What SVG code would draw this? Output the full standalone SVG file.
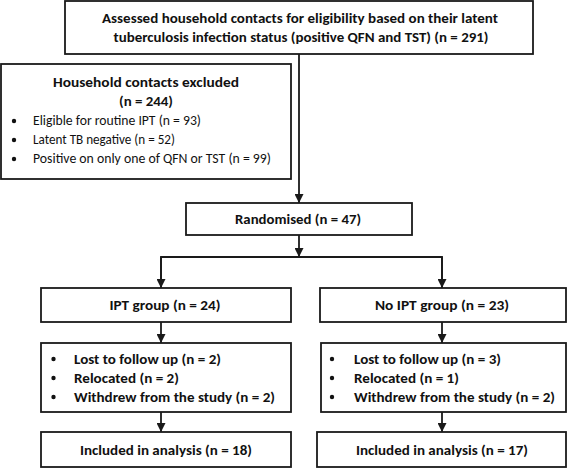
<svg xmlns="http://www.w3.org/2000/svg" width="567" height="469" viewBox="0 0 567 469">
<defs>
<style>
.box{fill:#fff;stroke:#1a1a1a;stroke-width:1.8}
.t{font-family:Carlito,Lato,"Liberation Sans",sans-serif;font-size:13.5px;font-weight:bold;fill:#111}
.r{font-family:Carlito,Lato,"Liberation Sans",sans-serif;font-size:13.5px;font-weight:normal;fill:#111}
.h{font-size:14.5px}
.c{text-anchor:middle}
.ln{stroke:#1a1a1a;stroke-width:1.8;fill:none}
.dot{fill:#111}
</style>
<marker id="ah" markerUnits="userSpaceOnUse" markerWidth="9" markerHeight="9" refX="9" refY="4.5" orient="auto">
<path d="M0,0 L9,4.5 L0,9 z" fill="#1a1a1a"/>
</marker>
</defs>
<rect width="567" height="469" fill="#fff"/>
<g id="connectors">
<line class="ln" x1="299" y1="54" x2="299" y2="203" marker-end="url(#ah)"/>
<line class="ln" x1="299" y1="235" x2="299" y2="257" marker-end="url(#ah)"/>
<polyline class="ln" points="161,288 161,257 442,257 442,288"/>
<line class="ln" x1="161" y1="257" x2="161" y2="288" marker-end="url(#ah)"/>
<line class="ln" x1="442" y1="257" x2="442" y2="288" marker-end="url(#ah)"/>
<line class="ln" x1="161" y1="322" x2="161" y2="343" marker-end="url(#ah)"/>
<line class="ln" x1="442" y1="322" x2="442" y2="343" marker-end="url(#ah)"/>
<line class="ln" x1="161" y1="412" x2="161" y2="432" marker-end="url(#ah)"/>
<line class="ln" x1="442" y1="412" x2="442" y2="432" marker-end="url(#ah)"/>
</g>
<g id="assessed">
<rect class="box" x="65" y="1" width="468" height="53"/>
<text class="t c" x="300" y="23" textLength="396" lengthAdjust="spacingAndGlyphs">Assessed household contacts for eligibility based on their latent</text>
<text class="t c" x="301" y="42" textLength="375" lengthAdjust="spacingAndGlyphs">tuberculosis infection status (positive QFN and TST) (n = 291)</text>
</g>
<g id="excluded">
<rect class="box" x="1" y="64" width="290" height="115"/>
<text class="t h c" x="146" y="87" textLength="186" lengthAdjust="spacingAndGlyphs">Household contacts excluded</text>
<text class="t h c" x="146" y="106" textLength="54" lengthAdjust="spacingAndGlyphs">(n = 244)</text>
<circle class="dot" cx="14" cy="121" r="2.2"/>
<circle class="dot" cx="14" cy="140" r="2.2"/>
<circle class="dot" cx="14" cy="159" r="2.2"/>
<text class="r" x="33" y="125" textLength="168" lengthAdjust="spacingAndGlyphs">Eligible for routine IPT (n = 93)</text>
<text class="r" x="33" y="144" textLength="142" lengthAdjust="spacingAndGlyphs">Latent TB negative (n = 52)</text>
<text class="r" x="33" y="163" textLength="238" lengthAdjust="spacingAndGlyphs">Positive on only one of QFN or TST (n = 99)</text>
</g>
<g id="randomised">
<rect class="box" x="186" y="203" width="226" height="32"/>
<text class="t c" x="298" y="224" textLength="126" lengthAdjust="spacingAndGlyphs">Randomised (n = 47)</text>
</g>
<g id="ipt">
<rect class="box" x="41" y="288" width="250" height="34"/>
<text class="t c" x="165" y="310" textLength="111" lengthAdjust="spacingAndGlyphs">IPT group (n = 24)</text>
</g>
<g id="noipt">
<rect class="box" x="320" y="288" width="246" height="34"/>
<text class="t c" x="442" y="310" textLength="134" lengthAdjust="spacingAndGlyphs">No IPT group (n = 23)</text>
</g>
<g id="ipt-lost">
<rect class="box" x="41" y="343" width="250" height="69"/>
<circle class="dot" cx="53.5" cy="359" r="2.2"/>
<circle class="dot" cx="53.5" cy="378" r="2.2"/>
<circle class="dot" cx="53.5" cy="397" r="2.2"/>
<text class="t" x="74" y="364" textLength="147" lengthAdjust="spacingAndGlyphs">Lost to follow up (n = 2)</text>
<text class="t" x="74" y="383" textLength="105" lengthAdjust="spacingAndGlyphs">Relocated (n = 2)</text>
<text class="t" x="74" y="402" textLength="201" lengthAdjust="spacingAndGlyphs">Withdrew from the study (n = 2)</text>
</g>
<g id="noipt-lost">
<rect class="box" x="321" y="343" width="245" height="69"/>
<circle class="dot" cx="332" cy="359" r="2.2"/>
<circle class="dot" cx="332" cy="378" r="2.2"/>
<circle class="dot" cx="332" cy="397" r="2.2"/>
<text class="t" x="354" y="364" textLength="147" lengthAdjust="spacingAndGlyphs">Lost to follow up (n = 3)</text>
<text class="t" x="354" y="383" textLength="105" lengthAdjust="spacingAndGlyphs">Relocated (n = 1)</text>
<text class="t" x="354" y="402" textLength="201" lengthAdjust="spacingAndGlyphs">Withdrew from the study (n = 2)</text>
</g>
<g id="ipt-included">
<rect class="box" x="41" y="432" width="250" height="35"/>
<text class="t c" x="166" y="455" textLength="172" lengthAdjust="spacingAndGlyphs">Included in analysis (n = 18)</text>
</g>
<g id="noipt-included">
<rect class="box" x="317" y="432" width="249" height="35"/>
<text class="t c" x="442" y="455" textLength="172" lengthAdjust="spacingAndGlyphs">Included in analysis (n = 17)</text>
</g>
</svg>
